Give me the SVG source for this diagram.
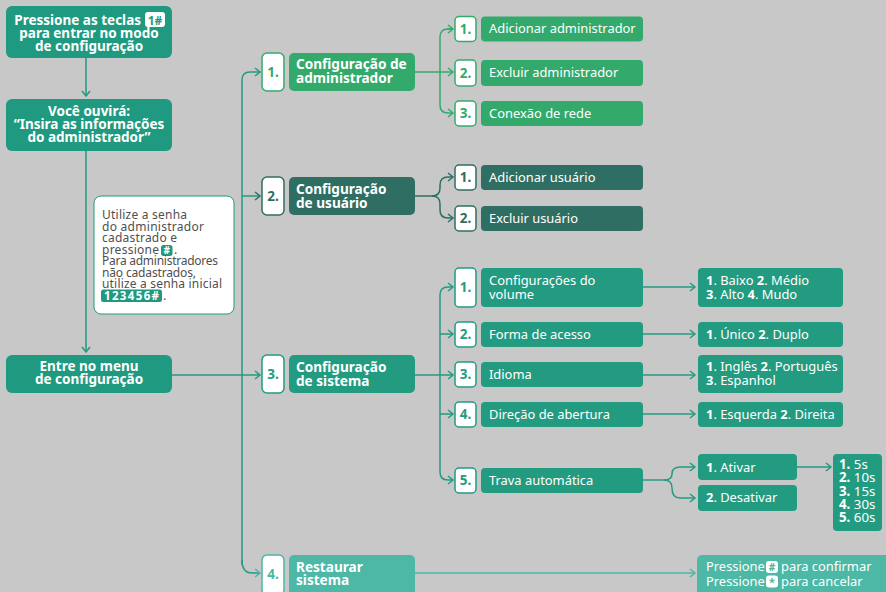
<svg xmlns="http://www.w3.org/2000/svg" width="886" height="592" viewBox="0 0 886 592">
<style>
.bg{fill:#c8c8c8}
.left{fill:#1f9a80}
.admin{fill:#33aa6c}
.user{fill:#2f6e62}
.sys{fill:#229b81}
.rest{fill:#4cb8a5}
.num{fill:#ffffff;stroke-width:1.5}
.nadmin{stroke:#33aa6c}
.nuser{stroke:#2f6e62}
.nsys{stroke:#229b81}
.nrest{stroke:#4cb8a5}
.t{font-family:"Noto Sans","Open Sans",sans-serif;fill:#ffffff}
.b{font-weight:bold}
.h{font-size:13.5px;font-weight:bold}
.m{font-size:13.6px;font-weight:bold}
.s{font-size:12.9px}
.r{font-size:12.9px}
.n{font-size:13.5px;font-weight:bold}
.info{font-family:"Noto Sans","Open Sans",sans-serif;font-size:12px;fill:#505050}
.c{fill:none;stroke-width:1.5}
.cl{stroke:#1f9a80}
.ca{stroke:#33aa6c}
.cu{stroke:#2f6e62}
.cs{stroke:#229b81}
.cr{stroke:#4cb8a5}
</style>
<defs>
<marker id="ma" viewBox="0 0 10 10" refX="7" refY="5" markerWidth="10" markerHeight="10" markerUnits="userSpaceOnUse" orient="auto"><path d="M2,1 L7,5 L2,9" fill="none" stroke="#33aa6c" stroke-width="1.5"/></marker>
<marker id="mu" viewBox="0 0 10 10" refX="7" refY="5" markerWidth="10" markerHeight="10" markerUnits="userSpaceOnUse" orient="auto"><path d="M2,1 L7,5 L2,9" fill="none" stroke="#2f6e62" stroke-width="1.5"/></marker>
<marker id="ms" viewBox="0 0 10 10" refX="7" refY="5" markerWidth="10" markerHeight="10" markerUnits="userSpaceOnUse" orient="auto"><path d="M2,1 L7,5 L2,9" fill="none" stroke="#229b81" stroke-width="1.5"/></marker>
<marker id="mr" viewBox="0 0 10 10" refX="7" refY="5" markerWidth="10" markerHeight="10" markerUnits="userSpaceOnUse" orient="auto"><path d="M2,1 L7,5 L2,9" fill="none" stroke="#4cb8a5" stroke-width="1.5"/></marker>
</defs>
<rect class="bg" x="0" y="0" width="886" height="592"/>

<g id="connectors">
<path class="c cl" d="M86,58 V96" marker-end="url(#ms)"/>
<path class="c cl" d="M86,151 V352" marker-end="url(#ms)"/>
<path class="c cs" d="M172,375 H260" marker-end="url(#ms)"/>
<path class="c cs" d="M242,565 V80 Q242,72 250,72 H260" marker-end="url(#ms)"/>
<path class="c cs" d="M242,196 H260" marker-end="url(#mu)"/>
<path class="c cs" d="M242,560 Q242,573 252,573 H260" marker-end="url(#mr)"/>
<path class="c ca" d="M415,72 H453" marker-end="url(#ma)"/>
<path class="c ca" d="M453,29 H448 Q440,29 440,37 V105 Q440,113 448,113 H453" marker-end="url(#ma)"/>
<path class="c ca" d="M447,29 H453" marker-end="url(#ma)"/>
<path class="c cu" d="M415,196 H432 Q440,196 440,188 V185 Q440,177 448,177 H453" marker-end="url(#mu)"/>
<path class="c cu" d="M432,196 Q440,196 440,204 V210 Q440,218 448,218 H453" marker-end="url(#mu)"/>
<path class="c cs" d="M415,375 H453" marker-end="url(#ms)"/>
<path class="c cs" d="M440,375 V295 Q440,287 448,287 H453" marker-end="url(#ms)"/>
<path class="c cs" d="M440,375 V472 Q440,480 448,480 H453" marker-end="url(#ms)"/>
<path class="c cs" d="M440,334 H453" marker-end="url(#ms)"/>
<path class="c cs" d="M440,414 H453" marker-end="url(#ms)"/>
<path class="c cs" d="M643,287 H695" marker-end="url(#ms)"/>
<path class="c cs" d="M643,334 H695" marker-end="url(#ms)"/>
<path class="c cs" d="M643,375 H695" marker-end="url(#ms)"/>
<path class="c cs" d="M643,414 H695" marker-end="url(#ms)"/>
<path class="c cs" d="M643,480 H664 Q672,480 672,474 Q672,467 680,467 H695" marker-end="url(#ms)"/>
<path class="c cs" d="M664,480 Q672,480 672,488 Q672,498 680,498 H695" marker-end="url(#ms)"/>
<path class="c cs" d="M797,467 H831" marker-end="url(#ms)"/>
<path class="c cr" d="M415,573 H695" marker-end="url(#mr)"/>
</g>

<g id="n-pressione">
<rect class="left" x="6" y="6" width="166" height="52" rx="6"/>
<text class="t h" x="141" y="25" text-anchor="end">Pressione as teclas</text>
<rect x="145" y="12" width="20" height="15" rx="3" fill="#ffffff"/>
<text class="t h" x="155" y="24.5" text-anchor="middle" style="fill:#1f9a80;font-size:12px">1#</text>
<text class="t h" x="89" y="38" text-anchor="middle">para entrar no modo</text>
<text class="t h" x="89" y="51" text-anchor="middle">de configuração</text>
</g>

<g id="n-ouvira">
<rect class="left" x="6" y="99" width="166" height="52" rx="6"/>
<text class="t h" x="89" y="116" text-anchor="middle">Você ouvirá:</text>
<text class="t h" x="89" y="129" text-anchor="middle">“Insira as informações</text>
<text class="t h" x="89" y="142" text-anchor="middle">do administrador”</text>
</g>

<g id="n-info">
<rect x="94" y="196" width="140" height="118" rx="7" fill="#ffffff" stroke="#1f9a80" stroke-width="1"/>
<text class="info" x="102" y="219" textLength="85" lengthAdjust="spacing">Utilize a senha</text>
<text class="info" x="102" y="230.5" textLength="102" lengthAdjust="spacing">do administrador</text>
<text class="info" x="102" y="242" textLength="75" lengthAdjust="spacing">cadastrado e</text>
<text class="info" x="102" y="253.5" textLength="57" lengthAdjust="spacing">pressione</text>
<rect x="161" y="245" width="11.5" height="11" rx="2.5" fill="#1f9a80"/>
<text class="t b" x="166.75" y="254" text-anchor="middle" style="font-size:10px">#</text>
<text class="info" x="174" y="253.5">.</text>
<text class="info" x="102" y="265" textLength="116" lengthAdjust="spacing">Para administradores</text>
<text class="info" x="102" y="276.5" textLength="94" lengthAdjust="spacing">não cadastrados,</text>
<text class="info" x="102" y="288" textLength="120" lengthAdjust="spacing">utilize a senha inicial</text>
<rect x="101" y="289.5" width="61" height="12.5" rx="2.5" fill="#1f9a80"/>
<text class="t b" x="131.5" y="300" text-anchor="middle" textLength="55" lengthAdjust="spacing" style="font-size:11.5px">123456#</text>
<text class="info" x="163" y="300">.</text>
</g>

<g id="n-menu">
<rect class="left" x="6" y="355" width="166" height="38" rx="6"/>
<text class="t h" x="89" y="370.5" text-anchor="middle">Entre no menu</text>
<text class="t h" x="89" y="384" text-anchor="middle">de configuração</text>
</g>

<g id="n-admin">
<rect class="num nadmin" x="262" y="53" width="22" height="38" rx="5"/>
<text class="t n" x="273" y="77" text-anchor="middle" style="fill:#33aa6c">1.</text>
<rect class="admin" x="289" y="53" width="126" height="38" rx="5"/>
<text class="t m" x="296" y="69">Configuração de</text>
<text class="t m" x="296" y="83">administrador</text>
</g>

<g id="n-admin-1">
<rect class="num nadmin" x="455" y="16.5" width="21" height="25" rx="4"/>
<text class="t n" x="465.5" y="33.5" text-anchor="middle" style="fill:#33aa6c">1.</text>
<rect class="admin" x="481" y="16.5" width="162" height="25" rx="4"/>
<text class="t s" x="489" y="33">Adicionar administrador</text>
</g>
<g id="n-admin-2">
<rect class="num nadmin" x="455" y="60" width="21" height="26" rx="4"/>
<text class="t n" x="465.5" y="77.5" text-anchor="middle" style="fill:#33aa6c">2.</text>
<rect class="admin" x="481" y="60" width="162" height="26" rx="4"/>
<text class="t s" x="489" y="77">Excluir administrador</text>
</g>
<g id="n-admin-3">
<rect class="num nadmin" x="455" y="101" width="21" height="25" rx="4"/>
<text class="t n" x="465.5" y="118" text-anchor="middle" style="fill:#33aa6c">3.</text>
<rect class="admin" x="481" y="101" width="162" height="25" rx="4"/>
<text class="t s" x="489" y="118">Conexão de rede</text>
</g>

<g id="n-user">
<rect class="num nuser" x="262" y="177" width="22" height="38" rx="5"/>
<text class="t n" x="273" y="201" text-anchor="middle" style="fill:#2f6e62">2.</text>
<rect class="user" x="289" y="177" width="126" height="38" rx="5"/>
<text class="t m" x="296" y="194">Configuração</text>
<text class="t m" x="296" y="208">de usuário</text>
</g>
<g id="n-user-1">
<rect class="num nuser" x="455" y="165" width="21" height="25" rx="4"/>
<text class="t n" x="465.5" y="182" text-anchor="middle" style="fill:#2f6e62">1.</text>
<rect class="user" x="481" y="165" width="162" height="25" rx="4"/>
<text class="t s" x="489" y="182">Adicionar usuário</text>
</g>
<g id="n-user-2">
<rect class="num nuser" x="455" y="206" width="21" height="25" rx="4"/>
<text class="t n" x="465.5" y="223" text-anchor="middle" style="fill:#2f6e62">2.</text>
<rect class="user" x="481" y="206" width="162" height="25" rx="4"/>
<text class="t s" x="489" y="223">Excluir usuário</text>
</g>

<g id="n-sys">
<rect class="num nsys" x="262" y="355" width="22" height="38" rx="5"/>
<text class="t n" x="273" y="379" text-anchor="middle" style="fill:#229b81">3.</text>
<rect class="sys" x="289" y="355" width="126" height="38" rx="5"/>
<text class="t m" x="296" y="372">Configuração</text>
<text class="t m" x="296" y="386">de sistema</text>
</g>

<g id="n-sys-1">
<rect class="num nsys" x="455" y="268" width="21" height="39" rx="4"/>
<text class="t n" x="465.5" y="292" text-anchor="middle" style="fill:#229b81">1.</text>
<rect class="sys" x="481" y="268" width="162" height="39" rx="4"/>
<text class="t s" x="489" y="285">Configurações do</text>
<text class="t s" x="489" y="299">volume</text>
</g>
<g id="n-sys-1r">
<rect class="sys" x="698" y="268" width="145" height="39" rx="4"/>
<text class="t r" x="706" y="285"><tspan class="b">1</tspan>. Baixo <tspan class="b">2</tspan>. Médio</text>
<text class="t r" x="706" y="299"><tspan class="b">3</tspan>. Alto <tspan class="b">4</tspan>. Mudo</text>
</g>

<g id="n-sys-2">
<rect class="num nsys" x="455" y="322" width="21" height="25" rx="4"/>
<text class="t n" x="465.5" y="339" text-anchor="middle" style="fill:#229b81">2.</text>
<rect class="sys" x="481" y="322" width="162" height="25" rx="4"/>
<text class="t s" x="489" y="339">Forma de acesso</text>
</g>
<g id="n-sys-2r">
<rect class="sys" x="698" y="322" width="145" height="25" rx="4"/>
<text class="t r" x="706" y="339"><tspan class="b">1</tspan>. Único <tspan class="b">2</tspan>. Duplo</text>
</g>

<g id="n-sys-3">
<rect class="num nsys" x="455" y="362" width="21" height="25" rx="4"/>
<text class="t n" x="465.5" y="379" text-anchor="middle" style="fill:#229b81">3.</text>
<rect class="sys" x="481" y="362" width="162" height="25" rx="4"/>
<text class="t s" x="489" y="379">Idioma</text>
</g>
<g id="n-sys-3r">
<rect class="sys" x="698" y="355" width="145" height="38" rx="4"/>
<text class="t r" x="706" y="371"><tspan class="b">1</tspan>. Inglês <tspan class="b">2</tspan>. Português</text>
<text class="t r" x="706" y="385"><tspan class="b">3</tspan>. Espanhol</text>
</g>

<g id="n-sys-4">
<rect class="num nsys" x="455" y="402" width="21" height="25" rx="4"/>
<text class="t n" x="465.5" y="419" text-anchor="middle" style="fill:#229b81">4.</text>
<rect class="sys" x="481" y="402" width="162" height="25" rx="4"/>
<text class="t s" x="489" y="419">Direção de abertura</text>
</g>
<g id="n-sys-4r">
<rect class="sys" x="698" y="402" width="145" height="25" rx="4"/>
<text class="t r" x="706" y="419"><tspan class="b">1</tspan>. Esquerda <tspan class="b">2</tspan>. Direita</text>
</g>

<g id="n-sys-5">
<rect class="num nsys" x="455" y="468" width="21" height="25" rx="4"/>
<text class="t n" x="465.5" y="485" text-anchor="middle" style="fill:#229b81">5.</text>
<rect class="sys" x="481" y="468" width="162" height="25" rx="4"/>
<text class="t s" x="489" y="485">Trava automática</text>
</g>
<g id="n-ativar">
<rect class="sys" x="698" y="454" width="99" height="26" rx="4"/>
<text class="t r" x="706" y="472"><tspan class="b">1</tspan>. Ativar</text>
</g>
<g id="n-desativar">
<rect class="sys" x="698" y="485" width="99" height="26" rx="4"/>
<text class="t r" x="706" y="502"><tspan class="b">2</tspan>. Desativar</text>
</g>
<g id="n-tempos">
<rect class="sys" x="833" y="454" width="49" height="77" rx="4"/>
<text class="t r" x="839" y="469" style="font-size:13.3px"><tspan class="b">1.</tspan>  5s</text>
<text class="t r" x="839" y="482" style="font-size:13.3px"><tspan class="b">2.</tspan> 10s</text>
<text class="t r" x="839" y="495.5" style="font-size:13.3px"><tspan class="b">3.</tspan> 15s</text>
<text class="t r" x="839" y="508.5" style="font-size:13.3px"><tspan class="b">4.</tspan> 30s</text>
<text class="t r" x="839" y="522" style="font-size:13.3px"><tspan class="b">5.</tspan> 60s</text>
</g>

<g id="n-rest">
<rect class="num nrest" x="262" y="555" width="22" height="40" rx="5"/>
<text class="t n" x="273" y="579" text-anchor="middle" style="fill:#4cb8a5">4.</text>
<rect class="rest" x="289" y="555" width="126" height="40" rx="5"/>
<text class="t m" x="296" y="572">Restaurar</text>
<text class="t m" x="296" y="585">sistema</text>
</g>
<g id="n-rest-r">
<rect class="rest" x="697" y="555" width="195" height="40" rx="5"/>
<text class="t r" x="706" y="571">Pressione</text>
<rect x="766" y="561" width="12" height="12" rx="3" fill="#ffffff"/>
<text class="t b" x="772" y="570.5" text-anchor="middle" style="fill:#4cb8a5;font-size:10px">#</text>
<text class="t r" x="781" y="571">para confirmar</text>
<text class="t r" x="706" y="585.5">Pressione</text>
<rect x="766" y="575.5" width="12" height="12" rx="3" fill="#ffffff"/>
<text class="t b" x="772" y="586" text-anchor="middle" style="fill:#4cb8a5;font-size:11px">*</text>
<text class="t r" x="781" y="585.5">para cancelar</text>
</g>
</svg>
